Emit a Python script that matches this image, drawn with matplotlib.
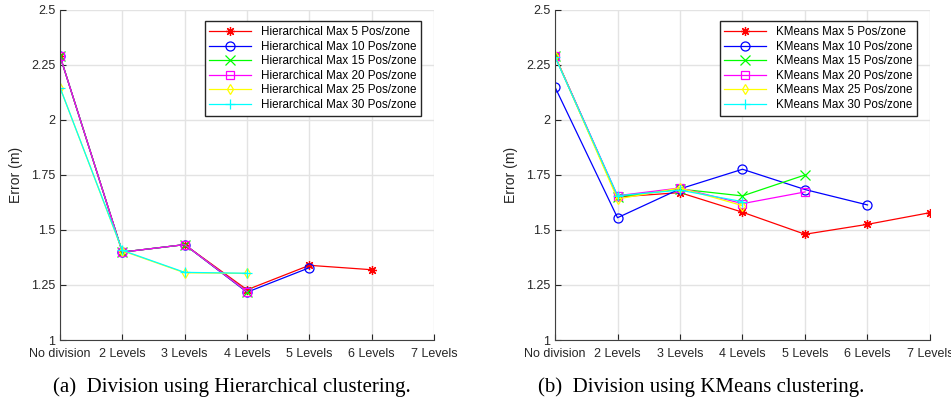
import numpy as np
import matplotlib.pyplot as plt

plt.rcParams['font.family'] = ['Liberation Sans', 'DejaVu Sans']

levels = ['No division', '2 Levels', '3 Levels', '4 Levels', '5 Levels', '6 Levels', '7 Levels']
max_pos = [5, 10, 15, 20, 25, 30]
colors = ['#ff0000', '#0000ff', '#00ff00', '#ff00ff', '#ffff00', '#00ffff']
# matlab style markers: asterisk, circle, x, square, diamond, plus
markers = [(8, 2, 0), 'o', 'x', 's', 'd', '+']

# Hierarchical clustering errors (m)
hier_5 = [2.289, 1.399, 1.433, 1.228, 1.339, 1.319]
hier_10 = [2.289, 1.399, 1.433, 1.217, 1.328]
hier_15 = [2.289, 1.399, 1.433, 1.220]
hier_20 = [2.289, 1.399, 1.433, 1.220]
hier_25 = [2.146, 1.405, 1.305, 1.302]
hier_30 = [2.146, 1.407, 1.307, 1.303]

# KMeans clustering errors (m)
km_5 = [2.289, 1.649, 1.669, 1.580, 1.480, 1.525, 1.578]
km_10 = [2.148, 1.555, 1.686, 1.775, 1.683, 1.613]
km_15 = [2.289, 1.650, 1.685, 1.654, 1.749]
km_20 = [2.289, 1.655, 1.690, 1.619, 1.672]
km_25 = [2.289, 1.640, 1.690, 1.610]
km_30 = [2.285, 1.655, 1.680, 1.628]

fig = plt.figure(figsize=(9.51, 4.03), dpi=100)
ax1 = fig.add_axes([0.0631, 0.1563, 0.3933, 0.8201])
ax2 = fig.add_axes([0.5836, 0.1563, 0.3943, 0.8201])


def draw(ax, series, prefix):
    for vals, n, c, m in zip(series, max_pos, colors, markers):
        x = np.arange(len(vals))
        mfc = 'none' if m in ('o', 's', 'd') else c
        ms = 5.5 if m in ('s', 'd') else 6.5
        ax.plot(x, vals, color=c, marker=m, markersize=ms, mfc=mfc, mec=c,
                lw=0.9, mew=0.9, label='%s Max %d Pos/zone' % (prefix, n))
    ax.set_xlim(0, 6)
    ax.set_ylim(1, 2.5)
    ax.set_xticks(range(7))
    ax.set_xticklabels(levels)
    ax.set_yticks([1, 1.25, 1.5, 1.75, 2, 2.25, 2.5])
    ax.set_yticklabels(['1', '1.25', '1.5', '1.75', '2', '2.25', '2.5'])
    ax.grid(True, color='#e3e3e3', lw=1)
    ax.set_axisbelow(True)
    for s in ['top', 'right']:
        ax.spines[s].set_visible(False)
    for s in ['left', 'bottom']:
        ax.spines[s].set_color('#404040')
    ax.tick_params(direction='in', length=4, labelsize=9, colors='#262626')
    ax.tick_params(axis='x', pad=6)
    ax.set_ylabel('Error (m)', fontsize=10, color='#262626', labelpad=6)
    leg = ax.legend(loc='upper right', bbox_to_anchor=(0.965, 0.964), borderaxespad=0,
                    fontsize=8.4, handlelength=3.6, labelspacing=0.22, fancybox=False,
                    framealpha=1, edgecolor='#262626', borderpad=0.4)
    leg.get_frame().set_linewidth(1.0)


draw(ax1, [hier_5, hier_10, hier_15, hier_20, hier_25, hier_30], 'Hierarchical')
draw(ax2, [km_5, km_10, km_15, km_20, km_25, km_30], 'KMeans')

fig.text(0.244, 0.04, '(a)  Division using Hierarchical clustering.', ha='center', va='center',
         fontsize=15, family='Liberation Serif')
fig.text(0.737, 0.04, '(b)  Division using KMeans clustering.', ha='center', va='center',
         fontsize=15, family='Liberation Serif')

fig.savefig('out.png', dpi=100)
